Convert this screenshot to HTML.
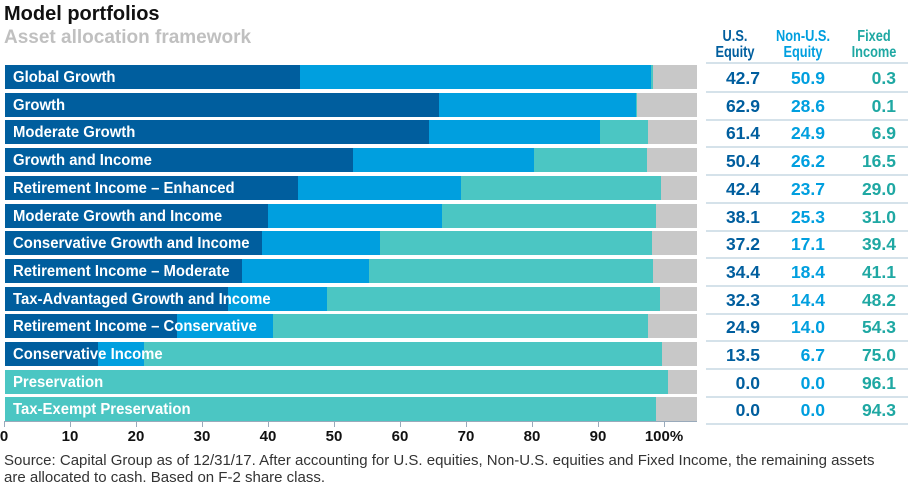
<!DOCTYPE html>
<html><head><style>
body{margin:0;width:916px;height:487px;background:#fff;font-family:"Liberation Sans",sans-serif;position:relative;overflow:hidden}
.a{position:absolute}
.t1{left:4px;top:3px;font-size:20px;font-weight:bold;color:#111}
.t2{left:4px;top:27px;font-size:19px;font-weight:bold;color:#c0c0c0}
.bar{position:absolute;left:5px;height:24px;width:692px;background:#c8c8c8}
.bar div{position:absolute;top:0;height:24px}
.bar .lab{position:absolute;left:8px;top:3px;height:20px;font-size:15.5px;font-weight:bold;color:#fff;line-height:20px;white-space:nowrap;transform:scaleX(0.96);transform-origin:left}
.h{position:absolute;top:29px;font-size:16px;font-weight:bold;text-align:center;line-height:16px;transform:scaleX(0.8)}
.num{position:absolute;font-size:17.5px;font-weight:bold;text-align:right;width:60px;line-height:20px}
.ln{position:absolute;left:706px;width:202px;height:2px;background:#d5e2ea}
.tk{position:absolute;top:421px;width:1px;height:6px;background:#9ab}
.tl{position:absolute;top:428px;font-size:15px;font-weight:bold;color:#111;width:40px;text-align:center}
</style></head><body>
<div class="a t1">Model portfolios</div>
<div class="a t2">Asset allocation framework</div>
<div class="h" style="left:705px;width:60px;color:#005e9e">U.S.<br>Equity</div>
<div class="h" style="left:768px;width:70px;color:#009fdf">Non-U.S.<br>Equity</div>
<div class="h" style="left:842px;width:64px;color:#1fa8a3">Fixed<br>Income</div>
<div class="ln" style="top:62px"></div>
<div id="c"></div>
<div class="a" style="left:4px;top:421px;width:693px;height:1px;background:#9ab"></div>
<div class="a" style="left:4px;top:452px;font-size:15px;color:#333;line-height:17px;width:885px">Source: Capital Group as of 12/31/17. After accounting for U.S. equities, Non-U.S. equities and Fixed Income, the remaining assets are allocated to cash. Based on F-2 share class.</div>
<script>
var d=[["Global Growth",42.7,50.9,0.3],["Growth",62.9,28.6,0.1],["Moderate Growth",61.4,24.9,6.9],["Growth and Income",50.4,26.2,16.5],["Retirement Income – Enhanced",42.4,23.7,29.0],["Moderate Growth and Income",38.1,25.3,31.0],["Conservative Growth and Income",37.2,17.1,39.4],["Retirement Income – Moderate",34.4,18.4,41.1],["Tax-Advantaged Growth and Income",32.3,14.4,48.2],["Retirement Income – Conservative",24.9,14.0,54.3],["Conservative Income",13.5,6.7,75.0],["Preservation",0,0,96.1],["Tax-Exempt Preservation",0,0,94.3]];
var k=6.9,h="";
d.forEach(function(r,i){var y=65+27.7*i;var a=r[1]*k,b=r[2]*k,c=r[3]*k;
h+='<div class="bar" style="top:'+y+'px"><div style="left:0;width:'+a+'px;background:#005e9e"></div><div style="left:'+a+'px;width:'+b+'px;background:#009fdf"></div><div style="left:'+(a+b)+'px;width:'+c+'px;background:#4bc6c3"></div><div class="lab">'+r[0]+'</div></div>';
var ty=y+3;
h+='<div class="num" style="left:700px;top:'+ty+'px;color:#005e9e">'+r[1].toFixed(1)+'</div>';
h+='<div class="num" style="left:765px;top:'+ty+'px;color:#009fdf">'+r[2].toFixed(1)+'</div>';
h+='<div class="num" style="left:836px;top:'+ty+'px;color:#1fa8a3">'+r[3].toFixed(1)+'</div>';
h+='<div class="ln" style="top:'+(y+26)+'px"></div>';});
for(var i=0;i<=10;i++){var x=4+66*i;h+='<div class="tk" style="left:'+x+'px"></div><div class="tl" style="left:'+(x-20)+'px">'+(i==10?'100%':i*10)+'</div>';}
document.getElementById('c').innerHTML=h;
</script>
</body></html>
